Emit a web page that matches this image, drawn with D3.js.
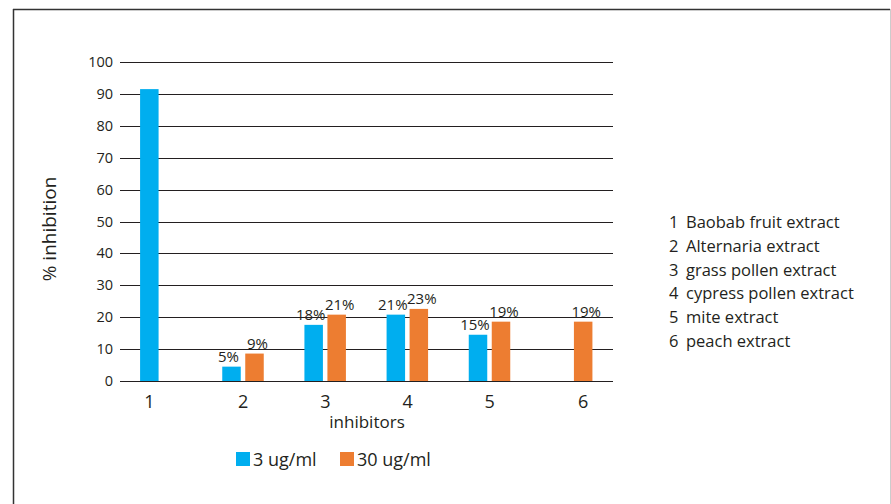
<!DOCTYPE html>
<html>
<head>
<meta charset="utf-8">
<script src="https://cdn.jsdelivr.net/npm/d3@7"></script>
<style>
  body { margin: 0; background: #fff; }
  text { font-family: "Open Sans", sans-serif; fill: #231f20; }
</style>
</head>
<body>
<div id="d3-container"></div>
<script>
/**
 * DATA
 * */
const categories = ["1", "2", "3", "4", "5", "6"];
const low = [91.5, 4.5, 17.6, 20.8, 14.5, null];     // 3 ug/ml
const high = [null, 8.6, 20.8, 22.6, 18.6, 18.6];    // 30 ug/ml
const seriesNames = ["3 ug/ml", "30 ug/ml"];
const extracts = [
  "Baobab fruit extract",
  "Alternaria extract",
  "grass pollen extract",
  "cypress pollen extract",
  "mite extract",
  "peach extract"
];
const yTicks = [0, 10, 20, 30, 40, 50, 60, 70, 80, 90, 100];

/**
 * CONSTANTS
 * */
const width = 891,
  height = 504;
const colors = ["#00aeef", "#ed7d31"];
const barW = 18.5;

const svg = d3.select("#d3-container")
  .append("svg")
  .attr("width", width)
  .attr("height", height);

// frame
svg.append("line").attr("x1", 13.5).attr("x2", 13.5).attr("y1", 9).attr("y2", height)
  .attr("stroke", "#333").attr("stroke-width", 1.5);
svg.append("line").attr("x1", 13).attr("x2", width - 1).attr("y1", 9.5).attr("y2", 9.5)
  .attr("stroke", "#333").attr("stroke-width", 1.5);
svg.append("line").attr("x1", width - 0.5).attr("x2", width - 0.5).attr("y1", 9).attr("y2", height)
  .attr("stroke", "#ccc");

/**
 * SCALES
 * */
const x = d3.scaleBand().domain(categories).range([120, 613]);
const y = d3.scaleLinear().domain([0, 100]).range([381, 62]);
// bar offsets from band centre for each series
const offset = [-21, 2];
// small nudge of the % labels so neighbours don't collide
const labelNudge = [-3, 3];

// gridlines + y labels
const grid = svg.append("g");
yTicks.forEach(t => {
  grid.append("line")
    .attr("x1", 120).attr("x2", 613)
    .attr("y1", Math.round(y(t)) + 0.5).attr("y2", Math.round(y(t)) + 0.5)
    .attr("stroke", "#231f20").attr("stroke-width", 1);
  grid.append("text")
    .attr("x", 113).attr("y", y(t) + 5)
    .attr("text-anchor", "end")
    .attr("font-size", 14.5)
    .text(t);
});

// bars
const series = [low, high];
series.forEach((vals, s) => {
  vals.forEach((v, i) => {
    if (v == null) return;
    const cx = x.bandwidth() / 2 + x(categories[i]) + offset[s];
    svg.append("rect")
      .attr("x", cx)
      .attr("y", y(v))
      .attr("width", barW)
      .attr("height", y(0) - y(v))
      .attr("fill", colors[s]);
    // percentage labels (not for the tall first bar)
    if (v < 50) {
      svg.append("text")
        .attr("x", cx + barW / 2 + labelNudge[s])
        .attr("y", y(v) - 5)
        .attr("text-anchor", "middle")
        .attr("font-size", 15)
        .text(Math.round(v) + "%");
    }
  });
});

// x tick labels: under the only bar when a group has one value
categories.forEach((c, i) => {
  let cx = x(c) + x.bandwidth() / 2;
  if (low[i] == null) cx += offset[1] + barW / 2;
  else if (high[i] == null) cx += offset[0] + barW / 2;
  svg.append("text")
    .attr("x", cx).attr("y", 408)
    .attr("text-anchor", "middle")
    .attr("font-size", 18)
    .text(c);
});

// axis titles
svg.append("text")
  .attr("x", 367).attr("y", 428)
  .attr("text-anchor", "middle")
  .attr("font-size", 17)
  .text("inhibitors");

svg.append("text")
  .attr("transform", "translate(56,229) rotate(-90)")
  .attr("text-anchor", "middle")
  .attr("font-size", 19)
  .text("% inhibition");

// bottom legend
const legX = [236, 340];
seriesNames.forEach((n, s) => {
  svg.append("rect")
    .attr("x", legX[s]).attr("y", 452)
    .attr("width", 14).attr("height", 14)
    .attr("fill", colors[s]);
  svg.append("text")
    .attr("x", legX[s] + 17).attr("y", 466)
    .attr("font-size", 18)
    .text(n);
});

// right legend of extracts
extracts.forEach((e, i) => {
  const yy = 228 + i * 23.8;
  svg.append("text").attr("x", 669).attr("y", yy).attr("font-size", 16.5).text(i + 1);
  svg.append("text").attr("x", 686).attr("y", yy).attr("font-size", 16.5).text(e);
});
</script>
</body>
</html>
